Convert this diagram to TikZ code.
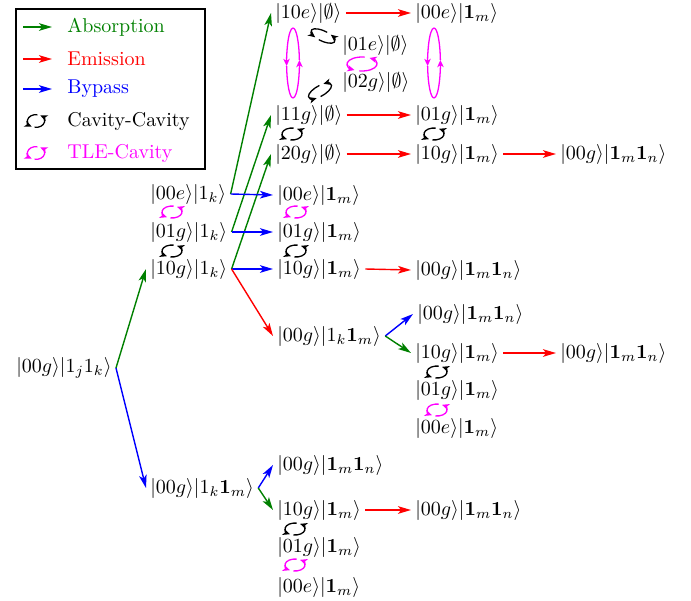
\documentclass[tikz,border=0pt]{standalone}
\usetikzlibrary{arrows.meta}
\definecolor{dgreen}{rgb}{0,0.5,0}
\definecolor{mag}{rgb}{1,0,1}
\definecolor{pred}{rgb}{1,0,0}
\definecolor{pblue}{rgb}{0,0,1}
\begin{document}
\begin{tikzpicture}[x=0.5pt,y=-0.5pt,
  st/.style={anchor=west,inner sep=2pt},
  tip/.style={-{Stealth[length=6.5pt,width=3.8pt,inset=1.6pt]},line width=0.7pt},
  ab/.style={tip,dgreen}, em/.style={tip,pred}, by/.style={tip,pblue},
  ctip/.style={-{Stealth[length=3.6pt,width=3.2pt,inset=1pt]},line width=0.65pt},
  pics/cyc/.style args={#1/#2}{code={
    \draw[ctip] (80:#1 and #2) arc[start angle=80,end angle=240,x radius=#1,y radius=#2];
    \draw[ctip] (260:#1 and #2) arc[start angle=260,end angle=420,x radius=#1,y radius=#2];}},
  pics/vcyc/.style args={#1/#2}{code={
    \draw[ctip] (90:#1 and #2) arc[start angle=90,end angle=185,x radius=#1,y radius=#2];
    \draw[line width=0.65pt] (185:#1 and #2) arc[start angle=185,end angle=270,x radius=#1,y radius=#2];
    \draw[ctip] (270:#1 and #2) arc[start angle=270,end angle=365,x radius=#1,y radius=#2];
    \draw[line width=0.65pt] (5:#1 and #2) arc[start angle=5,end angle=90,x radius=#1,y radius=#2];}}
]
\useasboundingbox (0,0) rectangle (691,600);

% legend
\node[draw,line width=0.9pt,minimum width=94.5pt,minimum height=80pt,anchor=north west,inner sep=0pt] (leg) at (15,8) {};
\coordinate (la1) at (23,27); \coordinate (lb1) at (52,27);
\coordinate (la2) at (23,59); \coordinate (lb2) at (52,59);
\coordinate (la3) at (23,89); \coordinate (lb3) at (52,89);
\draw[ab] (la1) -- (lb1);
\draw[em] (la2) -- (lb2);
\draw[by] (la3) -- (lb3);
\pic[black] at (36,121) {cyc=4.3pt/3.2pt};
\pic[mag] at (36,153) {cyc=4.3pt/3.2pt};
\node[st,dgreen] (t1) at (63,27) {Absorption};
\node[st,pred] (t2) at (63,59) {Emission};
\node[st,pblue] (t3) at (63,89) {Bypass};
\node[st] (t4) at (63,121) {Cavity-Cavity};
\node[st,mag] (t5) at (63,153) {TLE-Cavity};

% states
\node[st] (A0) at (12,368) {$|00g\rangle|1_j1_k\rangle$};
\node[st] (B1) at (146,194) {$|00e\rangle|1_k\rangle$};
\node[st] (B2) at (146,232) {$|01g\rangle|1_k\rangle$};
\node[st] (B3) at (146,269) {$|10g\rangle|1_k\rangle$};
\node[st] (C1) at (273,195) {$|00e\rangle|\mathbf{1}_m\rangle$};
\node[st] (C2) at (273,232) {$|01g\rangle|\mathbf{1}_m\rangle$};
\node[st] (C3) at (273,269) {$|10g\rangle|\mathbf{1}_m\rangle$};
\node[st] (D3) at (411,270) {$|00g\rangle|\mathbf{1}_m\mathbf{1}_n\rangle$};

\node[st] (T1) at (271,13) {$|10e\rangle|\emptyset\rangle$};
\node[st] (T2) at (411,13) {$|00e\rangle|\mathbf{1}_m\rangle$};
\node[st] (T3) at (338,45) {$|01e\rangle|\emptyset\rangle$};
\node[st] (T4) at (338,82) {$|02g\rangle|\emptyset\rangle$};
\node[st] (T5) at (271,115) {$|11g\rangle|\emptyset\rangle$};
\node[st] (T6) at (411,115) {$|01g\rangle|\mathbf{1}_m\rangle$};
\node[st] (T7) at (271,154) {$|20g\rangle|\emptyset\rangle$};
\node[st] (T8) at (411,154) {$|10g\rangle|\mathbf{1}_m\rangle$};
\node[st] (T9) at (556,154) {$|00g\rangle|\mathbf{1}_m\mathbf{1}_n\rangle$};

\node[st] (M1) at (273,336) {$|00g\rangle|1_k\mathbf{1}_m\rangle$};
\node[st] (M2) at (413,314) {$|00g\rangle|\mathbf{1}_m\mathbf{1}_n\rangle$};
\node[st] (M3) at (411,353) {$|10g\rangle|\mathbf{1}_m\rangle$};
\node[st] (M4) at (556,353) {$|00g\rangle|\mathbf{1}_m\mathbf{1}_n\rangle$};
\node[st] (M5) at (411,390) {$|01g\rangle|\mathbf{1}_m\rangle$};
\node[st] (M6) at (411,428) {$|00e\rangle|\mathbf{1}_m\rangle$};

\node[st] (L1) at (146,488) {$|00g\rangle|1_k\mathbf{1}_m\rangle$};
\node[st] (L2) at (273,465) {$|00g\rangle|\mathbf{1}_m\mathbf{1}_n\rangle$};
\node[st] (L3) at (273,510) {$|10g\rangle|\mathbf{1}_m\rangle$};
\node[st] (L4) at (411,510) {$|00g\rangle|\mathbf{1}_m\mathbf{1}_n\rangle$};
\node[st] (L5) at (273,547) {$|01g\rangle|\mathbf{1}_m\rangle$};
\node[st] (L6) at (273,587) {$|00e\rangle|\mathbf{1}_m\rangle$};

% cycles
\pic[mag] at (172,212) {cyc=5pt/3pt};
\pic[black] at (172,251) {cyc=5pt/3pt};
\pic[mag] at (296,212) {cyc=5pt/3pt};
\pic[black] at (296,251) {cyc=5pt/3pt};
\pic[black] at (292,134) {cyc=5pt/3pt};
\pic[black] at (434,134) {cyc=5pt/3pt};
\pic[mag] at (293,63) {vcyc=3.2pt/17.5pt};
\pic[mag] at (434,63) {vcyc=3.2pt/17.5pt};
\pic[mag] at (362,64) {cyc=7.5pt/3.5pt};
\pic[black,rotate=-25] at (323,36) {cyc=6.5pt/2.6pt};
\pic[black,rotate=30] at (320,91) {cyc=6.5pt/2.6pt};
\pic[black] at (437,372) {cyc=5pt/3pt};
\pic[mag] at (437,410) {cyc=5pt/3pt};
\pic[black] at (295,529) {cyc=5pt/3pt};
\pic[mag] at (295,565) {cyc=5pt/3pt};

% connectors
\draw[ab] (A0.east) -- (B3.west);
\draw[by] (A0.east) -- (L1.west);
\draw[ab] (B1.east) -- (T1.west);
\draw[ab] (B2.east) -- (T5.west);
\draw[ab] (B3.east) -- (T7.west);
\draw[by] (B1.east) -- (C1.west);
\draw[by] (B2.east) -- (C2.west);
\draw[by] (B3.east) -- (C3.west);
\draw[em] (B3.east) -- (M1.west);
\draw[em] (C3.east) -- (D3.west);
\draw[em] (T1.east) -- (T2.west);
\draw[em] (T5.east) -- (T6.west);
\draw[em] (T7.east) -- (T8.west);
\draw[em] (T8.east) -- (T9.west);
\draw[by] (M1.east) -- (M2.west);
\draw[ab] (M1.east) -- (M3.west);
\draw[em] (M3.east) -- (M4.west);
\draw[by] (L1.east) -- (L2.west);
\draw[ab] (L1.east) -- (L3.west);
\draw[em] (L3.east) -- (L4.west);
\end{tikzpicture}
\end{document}
